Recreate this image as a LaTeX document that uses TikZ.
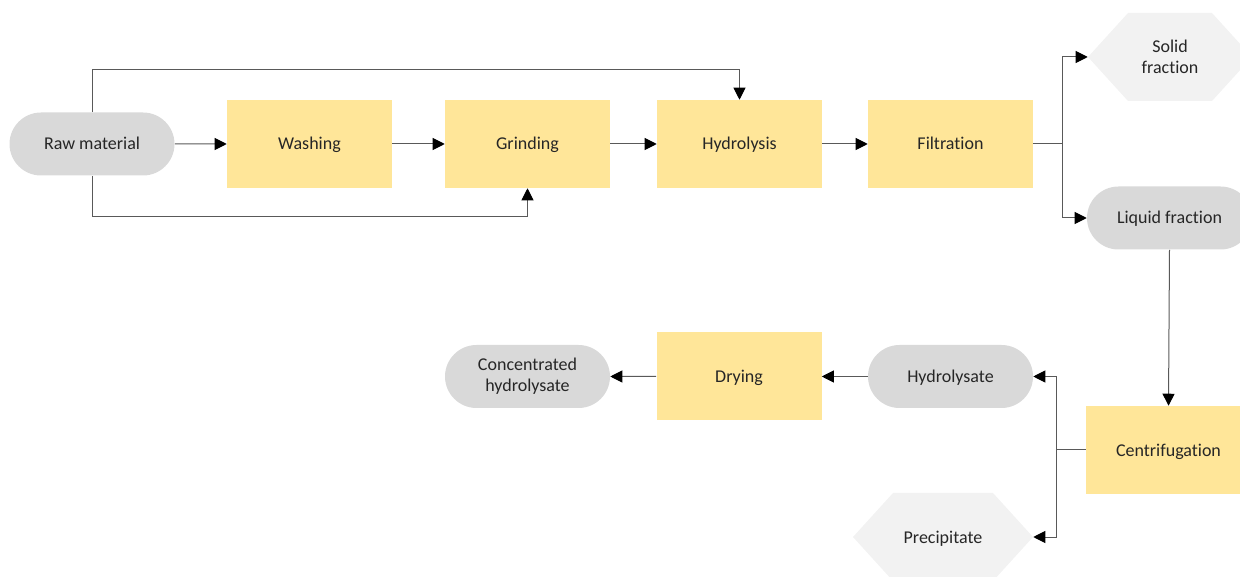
\documentclass[tikz,border=0pt]{standalone}
\usepackage{fontspec}
\setmainfont{Carlito}[Ligatures=NoCommon]
\usetikzlibrary{shapes.misc,arrows.meta,calc}
\definecolor{procfill}{HTML}{FFE699}
\definecolor{termfill}{HTML}{D9D9D9}
\definecolor{hexfill}{HTML}{F2F2F2}
\definecolor{linecol}{HTML}{595959}
\definecolor{txtcol}{HTML}{262626}
\tikzset{
  every node/.style={font=\fontsize{13.5pt}{16pt}\selectfont, text=txtcol},
  one/.style={text height=9pt, text depth=0pt},
  proc/.style={rectangle, fill=procfill, minimum width=165*0.75pt, minimum height=88*0.75pt, inner sep=0pt},
  term/.style={rounded rectangle, fill=termfill, minimum width=165*0.75pt, minimum height=63*0.75pt, inner sep=0pt, align=center},
  hexa/.style={rectangle, minimum height=88*0.75pt, inner sep=0pt, align=center,
    path picture={\fill[hexfill] (path picture bounding box.west)
      -- ([xshift=30pt]path picture bounding box.north west)
      -- ([xshift=-30pt]path picture bounding box.north east)
      -- (path picture bounding box.east)
      -- ([xshift=-30pt]path picture bounding box.south east)
      -- ([xshift=30pt]path picture bounding box.south west) -- cycle;}},
  conn/.style={draw=linecol, line width=0.75pt},
  arr/.style={conn, -{Triangle[length=9pt,width=9pt,color=black]}}
}
\begin{document}
\begin{tikzpicture}[x=0.75pt,y=-0.75pt]
\useasboundingbox (0,0) rectangle (1240,577);
\clip (0,0) rectangle (1240,577);
% top row
\node[term, one] (raw) at (92,144) {Raw material};
\node[proc, one] (wash) at (309.5,144) {Washing};
\node[proc, one] (grind) at (527.5,144) {Grinding};
\node[proc, one] (hydro) at (739.5,144) {Hydrolysis};
\node[proc, one] (filt) at (950.5,144) {Filtration};
\node[hexa, minimum width=164*0.75pt] (solid) at (1170,57) {Solid\\fraction};
\node[term, one] (liquid) at (1169.5,218) {Liquid fraction};
% bottom row
\node[proc, one] (centr) at (1168.5,450) {Centrifugation};
\node[term, one] (hysate) at (950.5,376.5) {Hydrolysate};
\node[hexa, one, minimum width=180*0.75pt] (prec) at (943,537) {Precipitate};
\node[proc, one] (dry) at (739,376.5) {Drying};
\node[term] (conc) at (527.5,376.5) {Concentrated\\hydrolysate};
% connectors
\draw[arr] (raw) -- (wash);
\draw[arr] (wash) -- (grind);
\draw[arr] (grind) -- (hydro);
\draw[arr] (hydro) -- (filt);
\draw[arr] (raw.north) -- (raw.north |- 0,70) -| (hydro.north);
\draw[arr] (raw.south) -- (raw.south |- 0,217) -| (grind.south);
\coordinate (s1) at (1062,144);
\draw[conn] (filt.east) -- (s1);
\draw[arr] (s1) |- (solid.west);
\draw[arr] (s1) |- (liquid.west);
\draw[arr] (liquid.south) -- (centr.north);
\coordinate (s2) at (1056,450);
\draw[conn] (centr.west) -- (s2);
\draw[arr] (s2) |- (hysate.east);
\draw[arr] (s2) |- (prec.east);
\draw[arr] (hysate) -- (dry);
\draw[arr] (dry) -- (conc);
\end{tikzpicture}
\end{document}
